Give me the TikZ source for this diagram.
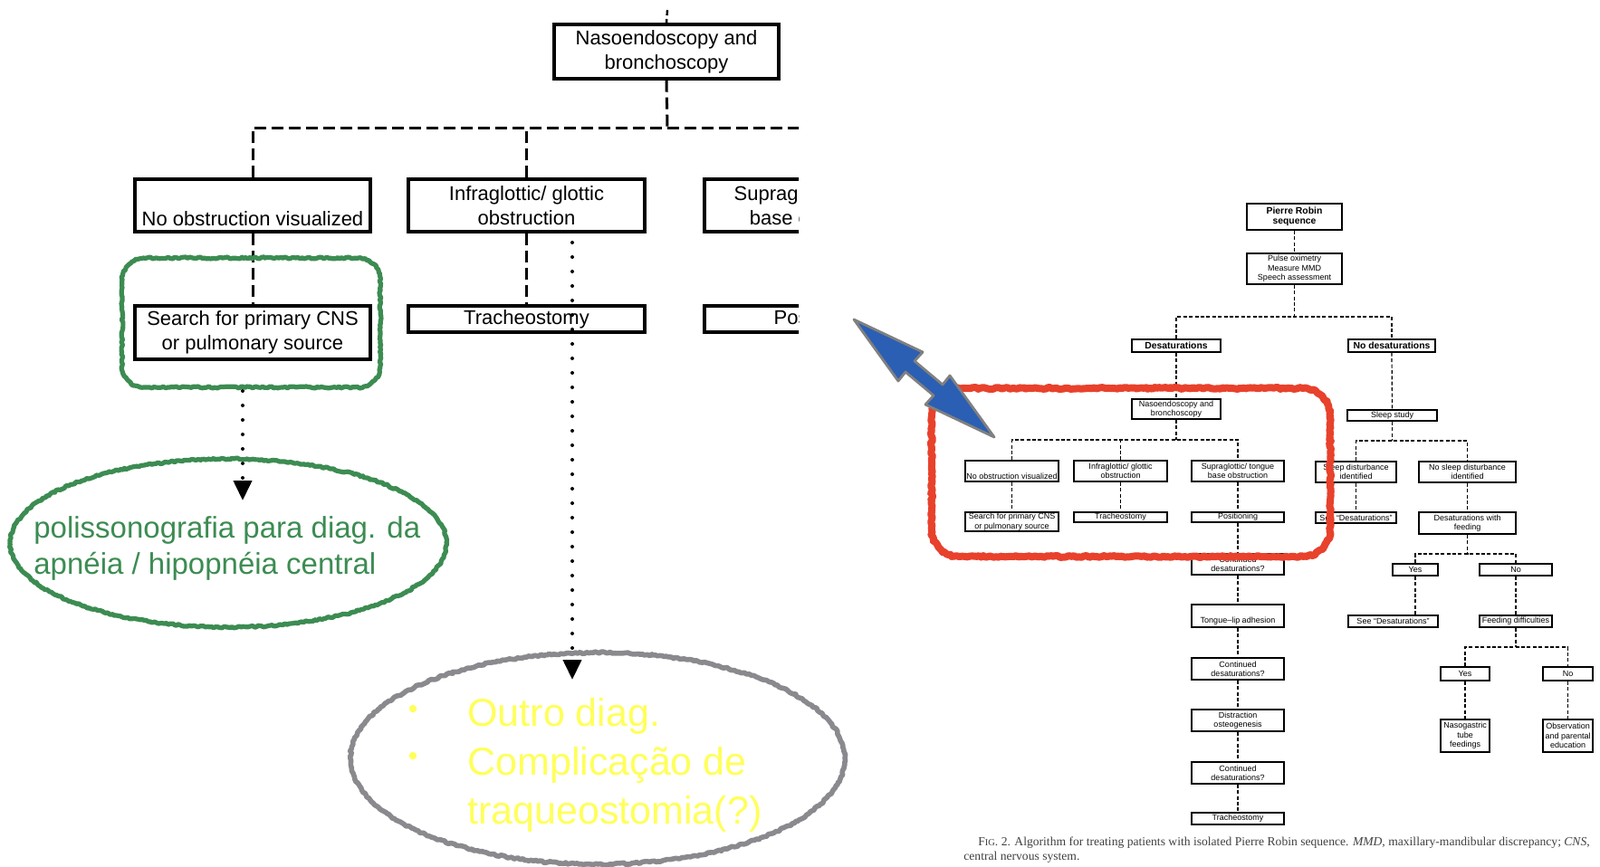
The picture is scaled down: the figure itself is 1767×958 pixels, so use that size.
\documentclass[tikz,border=0pt]{standalone}
\usepackage{fontspec}
\setmainfont{Liberation Sans}
\newfontfamily\capfont{Liberation Serif}
\usetikzlibrary{arrows.meta,decorations.pathmorphing}
\definecolor{hlred}{HTML}{E8412C}
\definecolor{hlgreen}{HTML}{3C8C52}
\definecolor{hlgray}{HTML}{8A8A8E}
\definecolor{hlyellow}{HTML}{FFFF5A}
\definecolor{hlblue}{HTML}{2B5FB4}
\definecolor{arrowedge}{HTML}{808080}
\newcommand\myrrect[6][]{\draw[#1] ({#2+#6},#3) -- ({#4-#6},#3) arc[start angle=90,end angle=0,radius={#6*0.5pt}] -- (#4,{#5-#6}) arc[start angle=0,end angle=-90,radius={#6*0.5pt}] -- ({#2+#6},#5) arc[start angle=270,end angle=180,radius={#6*0.5pt}] -- (#2,{#3+#6}) arc[start angle=180,end angle=90,radius={#6*0.5pt}] -- cycle;}
\begin{document}
\begin{tikzpicture}[x=0.5pt,y=-0.5pt,
  sz/.style 2 args={minimum width={#1*0.5pt}, minimum height={#2*0.5pt}},
  Lbox/.style={draw, line width=1.6pt, inner sep=0pt, align=center, font=\fontsize{11}{13.5}\selectfont},
  Ldash/.style={line width=1.5pt, dash pattern=on 6.5pt off 3pt},
  Rbox/.style={draw, line width=0.7pt, inner sep=0pt, align=center, font=\fontsize{4.5}{5.2}\selectfont},
  Rb/.style={font=\fontsize{5.2}{5.8}\selectfont\bfseries},
  Rdash/.style={line width=0.6pt, dash pattern=on 2pt off 1.2pt},
  dotarrow/.style={line width=2pt, dash pattern=on 0pt off 8pt, line cap=round, -{Triangle[length=11pt,width=10pt]}},
  rough/.style={decorate, decoration={random steps, segment length=1.2pt, amplitude=0.5pt}, line join=round, line cap=round},
  gtext/.style={anchor=base west, text=hlgreen, font=\fontsize{16.5}{20}\selectfont, inner sep=0pt},
  ytext/.style={anchor=base west, text=hlyellow, font=\fontsize{21.5}{27}\selectfont, inner sep=0pt},
  ybullet/.style={text=hlyellow, font=\fontsize{15}{16}\selectfont, inner sep=0pt}
]
\useasboundingbox (0,0) rectangle (1767,958);
\fill[white] (0,0) rectangle (1767,958);

% ---------------- left enlarged panel ----------------
\node[Lbox, sz={248}{60}] (nasoL) at (736,57) {Nasoendoscopy and\\bronchoscopy};
\coordinate (topL) at (737,11);
\draw[line width=1.2pt, dash pattern=on 3pt off 2pt] (topL) -- (nasoL.north);
\node[Lbox, sz={260}{58}] (noobsL) at (279,227) {\strut\\No obstruction visualized};
\node[Lbox, sz={261}{58}] (infraL) at (581.5,227) {Infraglottic/ glottic\\obstruction};
\node[Lbox, sz={260}{59}] (searchL) at (279,367.5) {Search for primary CNS\\or pulmonary source};
\node[Lbox, sz={261}{29}] (trachL) at (581.5,352.5) {Tracheostomy};
\coordinate (splitL) at (737,141);
\begin{scope}
  \clip (0,0) rectangle (882,958);
  \node[Lbox, sz={261}{58}] (supraL) at (908.5,227) {Supraglottic/ tongue\\base obstruction};
  \node[Lbox, sz={261}{29}] (posL) at (908.5,352.5) {Positioning};
  \draw[Ldash] (noobsL.north) |- (splitL) -| (supraL.north);
\end{scope}
\draw[Ldash] (nasoL.south) -- (splitL);
\draw[Ldash] (infraL.north) -- (infraL.north |- splitL);
\draw[Ldash] (noobsL.south) -- (searchL.north);
\draw[Ldash] (infraL.south) -- (trachL.north);

% dotted arrows
\coordinate (dA1) at (268,432);
\coordinate (dA2) at (268,553);
\draw[dotarrow] (dA1) -- (dA2);
\coordinate (dB1) at (632,268);
\coordinate (dB2) at (632,751);
\draw[dotarrow] (dB1) -- (dB2);

% green highlight and ellipse
\myrrect[rough, hlgreen, line width=2.6pt]{135}{285}{420}{428}{24}
\draw[rough, hlgreen, line width=2.6pt] (252,600) ellipse [x radius=120.5pt, y radius=46.5pt];
\node[gtext] (g1) at (37,594) {polissonografia para diag. da};
\node[gtext] (g2) at (37,634) {apnéia / hipopnéia central};

% gray ellipse with yellow text
\draw[rough, hlgray, line width=2.8pt] (660,838) ellipse [x radius=136.5pt, y radius=58.5pt];
\node[ybullet] (b1) at (456,786) {•};
\node[ybullet] (b2) at (456,838) {•};
\node[ytext] (y1) at (516,802) {Outro diag.};
\node[ytext] (y2) at (516,856) {Complicação de};
\node[ytext] (y3) at (516,910) {traqueostomia(?)};

% ---------------- right flowchart ----------------
\node[Rbox, Rb, sz={105}{29}] (prs) at (1429.5,239.5) {Pierre Robin\\sequence};
\node[Rbox, sz={105}{34}] (pulse) at (1429.5,297) {Pulse oximetry\\Measure MMD\\Speech assessment};
\node[Rbox, Rb, sz={98}{14}] (desat) at (1299,382) {Desaturations};
\node[Rbox, Rb, sz={96}{14}] (nodesat) at (1537,382) {No desaturations};
\node[Rbox, sz={98}{22}] (naso) at (1299,452) {Nasoendoscopy and\\bronchoscopy};
\node[Rbox, sz={103}{23}] (noobs) at (1117.5,520.5) {\strut\\No obstruction visualized};
\node[Rbox, sz={103}{23}] (infra) at (1237.5,520.5) {Infraglottic/ glottic\\obstruction};
\node[Rbox, sz={102}{23}] (supra) at (1367,520.5) {Supraglottic/ tongue\\base obstruction};
\node[Rbox, sz={103}{21}] (search) at (1117.5,576.5) {Search for primary CNS\\or pulmonary source};
\node[Rbox, sz={103}{11}] (trach) at (1237.5,571.5) {Tracheostomy};
\node[Rbox, sz={102}{11}] (pos) at (1367,571.5) {Positioning};
\node[Rbox, sz={102}{23}] (cont1) at (1367,623.5) {Continued\\desaturations?};
\node[Rbox, sz={102}{25}] (tongue) at (1367,680.5) {\strut\\Tongue–lip adhesion};
\node[Rbox, sz={102}{24}] (cont2) at (1367,739) {Continued\\desaturations?};
\node[Rbox, sz={102}{24}] (distr) at (1367,796) {Distraction\\osteogenesis};
\node[Rbox, sz={102}{24}] (cont3) at (1367,854) {Continued\\desaturations?};
\node[Rbox, sz={102}{13}] (trach3) at (1367,904.5) {Tracheostomy};
\node[Rbox, sz={99}{12}] (sleep) at (1537.5,459) {Sleep study};
\node[Rbox, sz={89}{23}] (sldist) at (1497.5,521.5) {Sleep disturbance\\identified};
\node[Rbox, sz={107}{23}] (nosldist) at (1620.5,521.5) {No sleep disturbance\\identified};
\node[Rbox, sz={89}{12}] (seedes1) at (1497.5,572) {See “Desaturations”};
\node[Rbox, sz={107}{24}] (desfeed) at (1620.5,578) {Desaturations with\\feeding};
\node[Rbox, sz={50}{13}] (yes1) at (1563,629.5) {Yes};
\node[Rbox, sz={80}{13}] (no1) at (1674,629.5) {No};
\node[Rbox, sz={99}{13}] (seedes2) at (1538.5,686.5) {See “Desaturations”};
\node[Rbox, sz={80}{13}] (feeddiff) at (1674,686.5) {Feeding difficulties};
\node[Rbox, sz={54}{15}] (yes2) at (1618,744.5) {Yes};
\node[Rbox, sz={55}{15}] (no2) at (1731.5,744.5) {No};
\node[Rbox, sz={54}{36}] (ngt) at (1618,813) {Nasogastric\\tube\\feedings};
\node[Rbox, sz={55}{36}] (obs) at (1731.5,813) {Observation\\and parental\\education};

\coordinate (s1) at (1429.5,350);
\coordinate (s2) at (1299,486);
\coordinate (s3) at (1537.5,487);
\coordinate (s4) at (1620.5,612);
\coordinate (s5) at (1674,715);
\draw[Rdash] (prs.south) -- (pulse.north);
\draw[Rdash] (pulse.south) -- (s1);
\draw[Rdash] (desat.north) |- (s1) -| (nodesat.north);
\draw[Rdash] (desat.south) -- (naso.north);
\draw[Rdash] (naso.south) -- (s2);
\draw[Rdash] (noobs.north) |- (s2) -| (supra.north);
\draw[Rdash] (infra.north) -- (infra.north |- s2);
\draw[Rdash] (noobs.south) -- (search.north);
\draw[Rdash] (infra.south) -- (trach.north);
\draw[Rdash] (supra.south) -- (pos.north);
\draw[Rdash] (pos.south) -- (cont1.north);
\draw[Rdash] (cont1.south) -- (tongue.north);
\draw[Rdash] (tongue.south) -- (cont2.north);
\draw[Rdash] (cont2.south) -- (distr.north);
\draw[Rdash] (distr.south) -- (cont3.north);
\draw[Rdash] (cont3.south) -- (trach3.north);
\draw[Rdash] (nodesat.south) -- (sleep.north);
\draw[Rdash] (sleep.south) -- (s3);
\draw[Rdash] (sldist.north) |- (s3) -| (nosldist.north);
\draw[Rdash] (sldist.south) -- (seedes1.north);
\draw[Rdash] (nosldist.south) -- (desfeed.north);
\draw[Rdash] (desfeed.south) -- (s4);
\draw[Rdash] (yes1.north) |- (s4) -| (no1.north);
\draw[Rdash] (yes1.south) -- (yes1.south |- seedes2.north);
\draw[Rdash] (no1.south) -- (feeddiff.north);
\draw[Rdash] (feeddiff.south) -- (s5);
\draw[Rdash] (yes2.north) |- (s5) -| (no2.north);
\draw[Rdash] (yes2.south) -- (ngt.north);
\draw[Rdash] (no2.south) -- (obs.north);

\node[anchor=north west, align=left, inner sep=0pt, text=black!75, font=\capfont\fontsize{6.8}{7.6}\selectfont] (cap) at (1064,925)
  {\hspace*{8pt}F{\fontsize{5.2}{6}\selectfont IG}. 2. Algorithm for treating patients with isolated Pierre Robin sequence. \textit{MMD}, maxillary-mandibular discrepancy; \textit{CNS},\\central nervous system.};

% red highlight
\myrrect[rough, hlred, line width=4pt]{1029}{429}{1469}{615}{30}

% blue double arrow
\filldraw[fill=hlblue, draw=arrowedge, line width=1.4pt, line join=round]
  (943,353) -- (1019,389) -- (1010,399) -- (1041,425) -- (1049,415) -- (1098,483)
  -- (1022,447) -- (1031,437) -- (1000,411) -- (992,421) -- cycle;
\end{tikzpicture}
\end{document}
